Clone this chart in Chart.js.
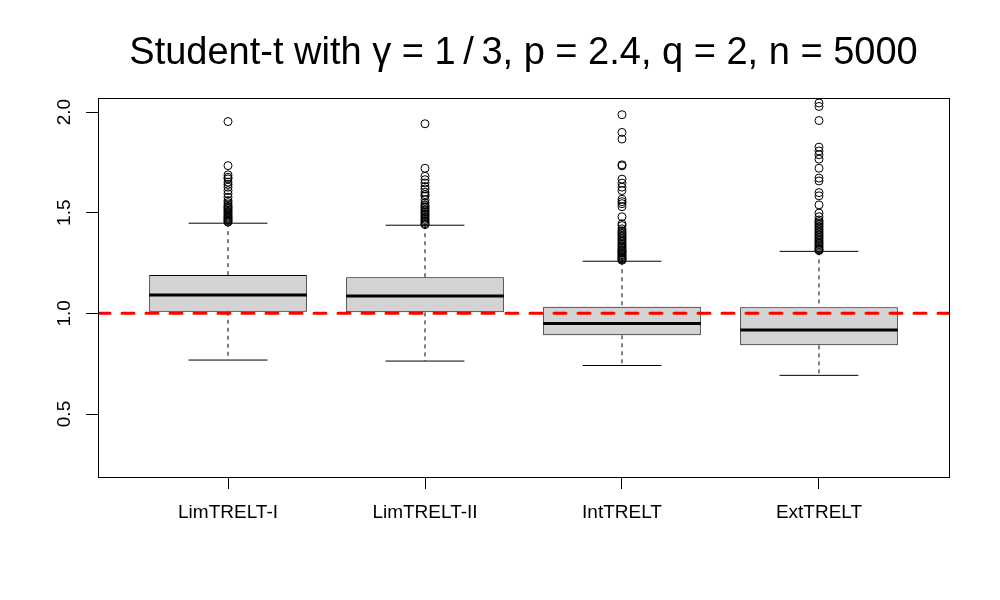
<!DOCTYPE html>
<html>
<head>
<meta charset="utf-8">
<script src="https://cdn.jsdelivr.net/npm/chart.js@4.4.0/dist/chart.umd.min.js"></script>
<style>
    body { margin: 0; background: #fff; }
    #wrap { width: 1000px; height: 600px; }
</style>
</head>
<body>
<div id="wrap"><canvas id="boxChart" width="1000" height="600"></canvas></div>
<script>
const chartTitle = 'Student-t with \u03B3 = 1\u2009/\u20093, p = 2.4, q = 2, n = 5000';
const categories = ['LimTRELT-I', 'LimTRELT-II', 'IntTRELT', 'ExtTRELT'];
const yTicks = [0.5, 1.0, 1.5, 2.0];
const referenceValue = 1.0;

const lowerWhisker = [0.768, 0.763, 0.741, 0.692];
const q1 = [1.008, 1.005, 0.891, 0.841];
const medians = [1.091, 1.086, 0.950, 0.917];
const q3 = [1.190, 1.179, 1.033, 1.030];
const upperWhisker = [1.448, 1.438, 1.259, 1.308];

const outliersLimI = [1.953, 1.734, 1.688, 1.676, 1.668, 1.652, 1.640, 1.627, 1.610, 1.594, 1.577,
    1.560, 1.550, 1.539, 1.532, 1.527, 1.520, 1.514, 1.507, 1.500, 1.494, 1.489, 1.483, 1.478,
    1.473, 1.468, 1.463, 1.458, 1.453];
const outliersLimII = [1.942, 1.721, 1.681, 1.664, 1.648, 1.630, 1.618, 1.602, 1.590, 1.582, 1.565,
    1.548, 1.538, 1.530, 1.524, 1.516, 1.509, 1.502, 1.495, 1.488, 1.481, 1.474, 1.467, 1.460,
    1.453, 1.446, 1.441];
const outliersInt = [1.987, 1.899, 1.866, 1.738, 1.733, 1.667, 1.647, 1.627, 1.610, 1.567, 1.555,
    1.545, 1.530, 1.480, 1.445, 1.436, 1.420, 1.410, 1.402, 1.395, 1.388, 1.380, 1.372, 1.365,
    1.358, 1.350, 1.343, 1.336, 1.330, 1.323, 1.316, 1.310, 1.304, 1.298, 1.292, 1.287, 1.282,
    1.277, 1.272, 1.268, 1.264];
const outliersExt = [2.045, 2.028, 1.958, 1.826, 1.807, 1.788, 1.766, 1.721, 1.672, 1.658, 1.600,
    1.584, 1.539, 1.498, 1.480, 1.464, 1.456, 1.448, 1.440, 1.432, 1.424, 1.416, 1.408, 1.400,
    1.392, 1.385, 1.378, 1.370, 1.362, 1.355, 1.348, 1.341, 1.334, 1.327, 1.320, 1.315, 1.312];
const outliers = [outliersLimI, outliersLimII, outliersInt, outliersExt];

const xMin = 0.34, xMax = 4.66;
const yMin = 0.187, yMax = 2.07;
const boxHalf = 0.4;
const stapleHalf = 0.2;
const FONT = '"Liberation Sans", Arial, sans-serif';

// segments separated by a null point so the line breaks between boxes
function segments(build) {
    const pts = [];
    categories.forEach((c, i) => {
        build(i + 1, i).forEach(p => pts.push(p));
        pts.push({ x: i + 1, y: null });
    });
    return pts;
}

const boxData = categories.map((c, i) => ({ x: i + 1, y: [q1[i], q3[i]] }));
const medianData = segments((x, i) => [{ x: x - boxHalf, y: medians[i] }, { x: x + boxHalf, y: medians[i] }]);
const whiskerData = segments((x, i) => [{ x: x, y: upperWhisker[i] }, { x: x, y: q3[i] }]
    .concat([{ x: x, y: null }, { x: x, y: q1[i] }, { x: x, y: lowerWhisker[i] }]));
const stapleData = segments((x, i) => [{ x: x - stapleHalf, y: upperWhisker[i] }, { x: x + stapleHalf, y: upperWhisker[i] }]
    .concat([{ x: x, y: null }, { x: x - stapleHalf, y: lowerWhisker[i] }, { x: x + stapleHalf, y: lowerWhisker[i] }]));
const outlierData = [];
outliers.forEach((list, i) => list.forEach(v => outlierData.push({ x: i + 1, y: v })));
const refData = [{ x: xMin, y: referenceValue }, { x: xMax, y: referenceValue }];

const lineBase = { type: 'line', pointRadius: 0, tension: 0, spanGaps: false, fill: false };

const framePlugin = {
    id: 'frame',
    afterDraw(chart) {
        const { ctx, chartArea: a, scales } = chart;
        ctx.save();
        ctx.strokeStyle = '#000';
        ctx.lineWidth = 1;
        ctx.strokeRect(Math.round(a.left) + 0.5, Math.round(a.top) + 0.5,
            Math.round(a.right - a.left), Math.round(a.bottom - a.top));

        ctx.fillStyle = '#000';
        ctx.font = '19px ' + FONT;
        ctx.textAlign = 'center';
        ctx.textBaseline = 'alphabetic';
        yTicks.forEach(v => {
            const y = scales.y.getPixelForValue(v);
            ctx.save();
            ctx.translate(a.left - 28.5, y);
            ctx.rotate(-Math.PI / 2);
            ctx.fillText(v.toFixed(1), 0, 0);
            ctx.restore();
        });

        ctx.font = '38px ' + FONT;
        ctx.fillText(chartTitle, (a.left + a.right) / 2, 64);
        ctx.restore();
    }
};

new Chart(document.getElementById('boxChart'), {
    type: 'bar',
    data: {
        datasets: [
            Object.assign({}, lineBase, {
                data: refData, borderColor: '#FF0000', borderWidth: 3,
                borderDash: [12, 12], borderCapStyle: 'round', order: 0
            }),
            {
                type: 'scatter', data: outlierData, pointStyle: 'circle', pointRadius: 4,
                pointBorderColor: '#000', pointBackgroundColor: 'rgba(0,0,0,0)',
                pointBorderWidth: 1, order: 1
            },
            Object.assign({}, lineBase, { data: medianData, borderColor: '#000', borderWidth: 3, borderCapStyle: 'butt', order: 2 }),
            Object.assign({}, lineBase, { data: stapleData, borderColor: '#000', borderWidth: 1, order: 3 }),
            Object.assign({}, lineBase, { data: whiskerData, borderColor: '#000', borderWidth: 1, borderDash: [4, 4], order: 4 }),
            {
                type: 'bar', data: boxData, backgroundColor: '#D3D3D3', borderColor: '#000',
                borderWidth: 1, borderSkipped: false, categoryPercentage: 1, barPercentage: 0.8, order: 5
            }
        ]
    },
    options: {
        responsive: false,
        animation: false,
        events: [],
        layout: { padding: { top: 98, right: 51, left: 0, bottom: 0 } },
        plugins: { legend: { display: false }, tooltip: { enabled: false }, title: { display: false } },
        scales: {
            x: {
                type: 'linear', min: xMin, max: xMax, offset: false,
                afterBuildTicks: axis => { axis.ticks = categories.map((c, i) => ({ value: i + 1 })); },
                afterFit: axis => { axis.height = 123; },
                grid: { display: true, offset: false, drawOnChartArea: false, drawTicks: true, tickLength: 12, color: '#000', lineWidth: 1 },
                border: { display: false },
                ticks: {
                    autoSkip: false, maxRotation: 0, padding: 12, color: '#000',
                    font: { family: FONT, size: 19 },
                    callback: v => categories[v - 1]
                }
            },
            y: {
                type: 'linear', min: yMin, max: yMax,
                afterBuildTicks: axis => { axis.ticks = yTicks.map(v => ({ value: v })); },
                afterFit: axis => { axis.width = 98; },
                grid: { display: true, offset: false, drawOnChartArea: false, drawTicks: true, tickLength: 12, color: '#000', lineWidth: 1 },
                border: { display: false },
                ticks: { display: false }
            }
        }
    },
    plugins: [framePlugin]
});
</script>
</body>
</html>
